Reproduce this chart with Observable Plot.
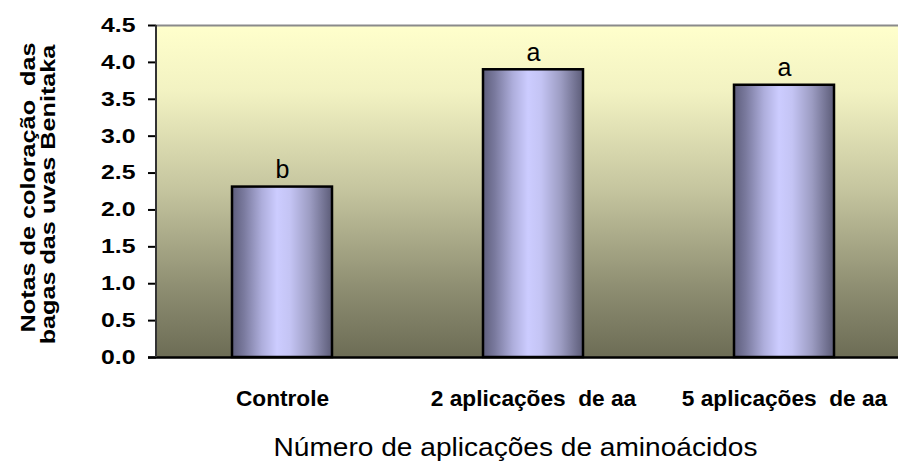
<!DOCTYPE html>
<html>
<head>
<meta charset="utf-8">
<script src="https://cdn.jsdelivr.net/npm/d3@7"></script>
<script src="https://cdn.jsdelivr.net/npm/@observablehq/plot@0.6"></script>
<style>
  html, body { margin: 0; padding: 0; background: #ffffff; }
  svg text { white-space: pre; }
</style>
</head>
<body>
<div id="chart"></div>
<script>
const categories = ["Controle", "2 aplicações  de aa", "5 aplicações  de aa"];
const values = [2.31, 3.90, 3.69];
const letters = ["b", "a", "a"];
const yTicks = [0, 0.5, 1.0, 1.5, 2.0, 2.5, 3.0, 3.5, 4.0, 4.5];
const xTitle = "Número de aplicações de aminoácidos";
const yTitleLines = ["Notas de coloração  das", "bagas das uvas Benitaka"];

const data = categories.map((c, i) => ({cat: c, value: values[i], letter: letters[i]}));

const W = 898, H = 463, ML = 156, MR = -12, MT = 25, MB = 106;
const font = "'Liberation Sans', Arial, Helvetica, sans-serif";

const plot = Plot.plot({
  width: W, height: H,
  marginLeft: ML, marginRight: MR, marginTop: MT, marginBottom: MB,
  style: {fontFamily: font, background: "white", color: "black", overflow: "hidden"},
  x: {domain: categories, paddingInner: 0.6, paddingOuter: 0.3, axis: null, label: null},
  y: {domain: [0, 4.5], axis: null, label: null},
  marks: [
    Plot.frame({fill: "url(#bgGrad)", stroke: null}),
    Plot.ruleY([4.5], {stroke: "#8a8a8a", strokeWidth: 2}),
    Plot.barY(data, {x: "cat", y: "value", fill: "url(#barGrad)", stroke: "black", strokeWidth: 2.5}),
    Plot.ruleY([0], {stroke: "black", strokeWidth: 2.5, insetLeft: -8}),
    Plot.text(data, {x: "cat", y: "value", text: "letter", dy: -9, lineAnchor: "bottom", fontSize: 25, fill: "black"}),
    Plot.axisY({ticks: yTicks, tickFormat: d => d.toFixed(1), tickSize: 8, tickPadding: 13, label: null,
      fontSize: 20, fontWeight: "bold", stroke: "black", strokeWidth: 2}),
    Plot.axisX({tickSize: 0, tickPadding: 33, fontSize: 22, fontWeight: "bold", label: null}),
    Plot.text([xTitle], {text: d => d, frameAnchor: "bottom", textAnchor: "middle", dy: 90, dx: -18, fontSize: 26,
      lineAnchor: "middle", fill: "black"}),
    Plot.text([yTitleLines[0]], {text: d => d, frameAnchor: "left", textAnchor: "middle", dx: -128, dy: -4, rotate: -90,
      fontSize: 21, fontWeight: "bold", lineAnchor: "middle", fill: "black"}),
    Plot.text([yTitleLines[1]], {text: d => d, frameAnchor: "left", textAnchor: "middle", dx: -108, dy: 3, rotate: -90,
      fontSize: 21, fontWeight: "bold", lineAnchor: "middle", fill: "black"})
  ]
});

document.getElementById("chart").appendChild(plot);

const svg = d3.select(plot);
const defs = svg.insert("defs", ":first-child");
const bg = defs.append("linearGradient").attr("id", "bgGrad")
  .attr("x1", 0).attr("y1", 0).attr("x2", 0).attr("y2", 1);
[[0, "#ffffcc"], [0.2, "#f2f2c2"], [0.5, "#c4c49e"], [0.8, "#8c8c70"], [1, "#6c6c55"]]
  .forEach(([o, c]) => bg.append("stop").attr("offset", o).attr("stop-color", c));
const bar = defs.append("linearGradient").attr("id", "barGrad")
  .attr("x1", 0).attr("y1", 0).attr("x2", 1).attr("y2", 0);
[[0, "#5e5e7c"], [0.12, "#7a7a9e"], [0.3, "#aeaedc"], [0.45, "#ccccff"], [0.58, "#c4c4f4"], [0.78, "#9c9cc2"], [1, "#5c5c78"]]
  .forEach(([o, c]) => bar.append("stop").attr("offset", o).attr("stop-color", c));

// left axis line
const ys = plot.scale("y");
svg.append("line")
  .attr("x1", ML).attr("x2", ML)
  .attr("y1", ys.apply(4.5)).attr("y2", ys.apply(0))
  .attr("stroke", "#333").attr("stroke-width", 2);

// widen glyphs to match the reference's stretched text
const tickStrs = yTicks.map(d => d.toFixed(1));
function factorFor(t) {
  if (tickStrs.includes(t)) return 1.24;
  if (categories.includes(t)) return 1.03;
  if (t === xTitle) return 1.08;
  if (yTitleLines.includes(t)) return 1.2;
  return 1;
}
svg.selectAll("text").each(function() {
  const t = this.textContent;
  const k = factorFor(t);
  if (k !== 1) {
    const L = this.getComputedTextLength();
    this.setAttribute("textLength", L * k);
    this.setAttribute("lengthAdjust", "spacingAndGlyphs");
  }
});
</script>
</body>
</html>
